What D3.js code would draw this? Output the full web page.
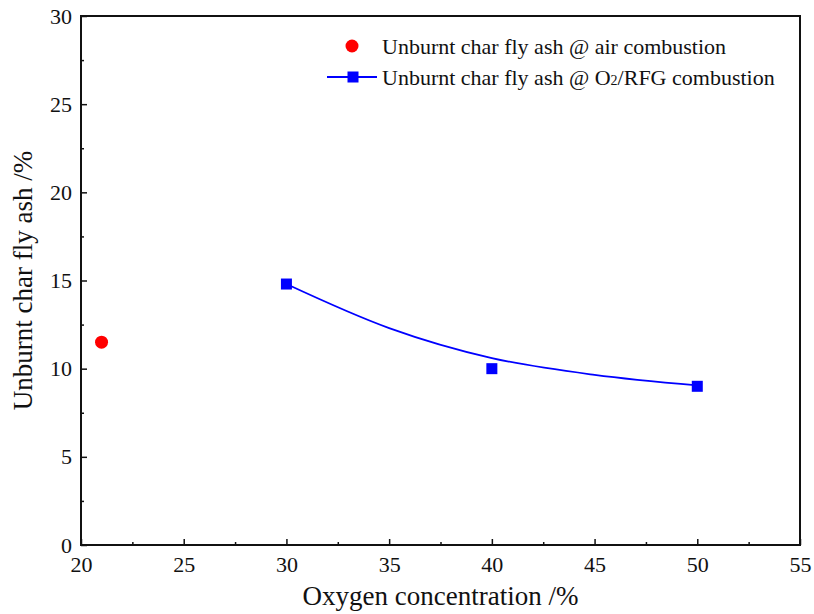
<!DOCTYPE html>
<html>
<head>
<meta charset="utf-8">
<script src="https://cdn.jsdelivr.net/npm/d3@7"></script>
<style>
  body { margin: 0; background: #fff; }
  text { font-family: "Liberation Serif", "Times New Roman", serif; fill: #111; }
</style>
</head>
<body>
<script>
// data
var airX = [21]
var airY = [11.5]
var rfgX = [30, 40, 50]
var rfgY = [14.8, 10, 9]
// fitted curve drawn through the O2/RFG points
var fitX = [30, 35, 40, 45, 50]
var fitY = [14.8, 12.3, 10.6, 9.65, 9.05]
var xTicks = [20, 25, 30, 35, 40, 45, 50, 55]
var yTicks = [0, 5, 10, 15, 20, 25, 30]
var legendLabels = ['Unburnt char fly ash @ air combustion', 'Unburnt char fly ash @ O2/RFG combustion']

var width = 814, height = 614
var margin = {left: 81, right: 14, top: 16, bottom: 69}

var svg = d3.select('body')
            .append('svg')
            .attr('width', width)
            .attr('height', height)

var x = d3.scaleLinear().domain([20, 55]).range([margin.left, width - margin.right])
var y = d3.scaleLinear().domain([0, 30]).range([height - margin.bottom, margin.top])

// minor ticks
var xMinor = d3.range(22.5, 55, 5)
var yMinor = d3.range(2.5, 30, 5)

svg.append('g')
   .attr('transform', 'translate(0,' + y(0) + ')')
   .call(d3.axisBottom(x).tickValues(xMinor).tickSize(-3).tickFormat(''))
   .call(function(g){ g.select('.domain').remove() })
svg.append('g')
   .attr('transform', 'translate(' + x(20) + ',0)')
   .call(d3.axisLeft(y).tickValues(yMinor).tickSize(-3).tickFormat(''))
   .call(function(g){ g.select('.domain').remove() })

var xAxis = svg.append('g')
   .attr('transform', 'translate(0,' + y(0) + ')')
   .call(d3.axisBottom(x).tickValues(xTicks).tickSize(-6).tickPadding(11).tickFormat(d3.format('d')))
xAxis.select('.domain').remove()
xAxis.selectAll('text').attr('font-size', 22).attr('fill', '#111')

var yAxis = svg.append('g')
   .attr('transform', 'translate(' + x(20) + ',0)')
   .call(d3.axisLeft(y).tickValues(yTicks).tickSize(-6).tickPadding(9).tickFormat(d3.format('d')))
yAxis.select('.domain').remove()
yAxis.selectAll('text').attr('font-size', 22).attr('fill', '#111')

svg.selectAll('.tick line').attr('stroke', '#111').attr('stroke-width', 1.5)

// frame
svg.append('rect')
   .attr('x', x(20))
   .attr('y', y(30))
   .attr('width', x(55) - x(20))
   .attr('height', y(0) - y(30))
   .attr('fill', 'none')
   .attr('stroke', '#111')
   .attr('stroke-width', 2)

// fitted curve
var fit = fitX.map(function(d, i){ return [d, fitY[i]] })
svg.append('path')
   .datum(fit)
   .attr('d', d3.line()
     .x(function(d){ return x(d[0]) })
     .y(function(d){ return y(d[1]) })
     .curve(d3.curveMonotoneX))
   .attr('fill', 'none')
   .attr('stroke', '#0000ff')
   .attr('stroke-width', 1.8)

// O2/RFG squares
svg.selectAll('rect.rfg')
   .data(rfgX)
   .enter()
   .append('rect')
   .attr('class', 'rfg')
   .attr('x', function(d){ return x(d) - 5.5 })
   .attr('y', function(d, i){ return y(rfgY[i]) - 5.5 })
   .attr('width', 11)
   .attr('height', 11)
   .attr('fill', '#0000ff')

// air combustion circle
svg.selectAll('circle.air')
   .data(airX)
   .enter()
   .append('circle')
   .attr('class', 'air')
   .attr('cx', function(d){ return x(d) })
   .attr('cy', function(d, i){ return y(airY[i]) })
   .attr('r', 6.5)
   .attr('fill', '#ff0000')

// legend
var lg = svg.append('g')
lg.append('circle').attr('cx', 352).attr('cy', 46).attr('r', 6.5).attr('fill', '#ff0000')
lg.append('text').attr('x', 382).attr('y', 54).attr('font-size', 22).text(legendLabels[0])
lg.append('line').attr('x1', 327).attr('x2', 377).attr('y1', 77).attr('y2', 77)
  .attr('stroke', '#0000ff').attr('stroke-width', 1.8)
lg.append('rect').attr('x', 347.5).attr('y', 71.5).attr('width', 11).attr('height', 11).attr('fill', '#0000ff')
var t2 = lg.append('text').attr('x', 382).attr('y', 85).attr('font-size', 22)
t2.append('tspan').text('Unburnt char fly ash @ O')
t2.append('tspan').attr('font-size', 14).text('2')
t2.append('tspan').text('/RFG combustion')

// axis titles
svg.append('text')
   .attr('x', (x(20) + x(55)) / 2)
   .attr('y', 605)
   .attr('text-anchor', 'middle')
   .attr('font-size', 27)
   .text('Oxygen concentration /%')

svg.append('text')
   .attr('transform', 'translate(32,' + ((y(0) + y(30)) / 2) + ') rotate(-90)')
   .attr('text-anchor', 'middle')
   .attr('font-size', 27)
   .text('Unburnt char fly ash /%')
</script>
</body>
</html>
